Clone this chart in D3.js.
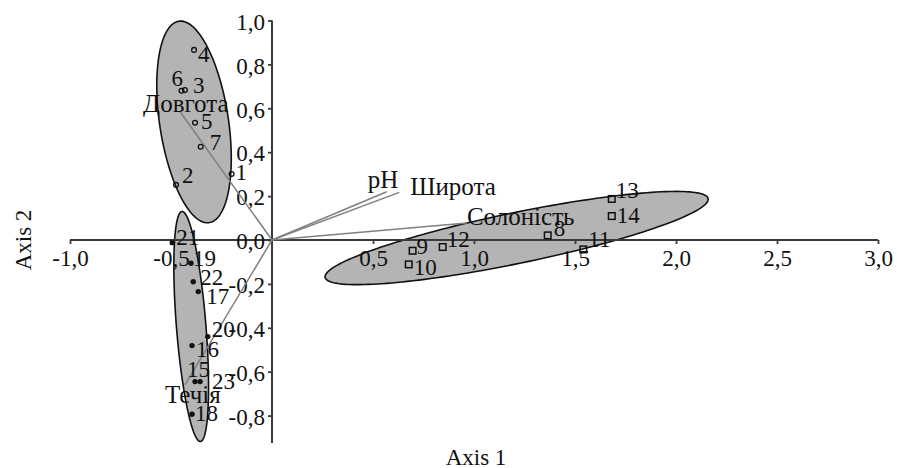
<!DOCTYPE html>
<html>
<head>
<meta charset="utf-8">
<script src="https://cdn.jsdelivr.net/npm/d3@7"></script>
<style>
  body { margin: 0; background: #fff; }
  text { font-family: "Liberation Serif", "DejaVu Serif", serif; fill: #111; }
</style>
</head>
<body>
<div id="chart"></div>
<script>
// site scores (Axis 1, Axis 2)
const groupA = [ // open circles
  { id: "1", x: -0.20, y: 0.301 },
  { id: "2", x: -0.475, y: 0.251 },
  { id: "3", x: -0.431, y: 0.683 },
  { id: "4", x: -0.386, y: 0.866 },
  { id: "5", x: -0.381, y: 0.534 },
  { id: "6", x: -0.448, y: 0.680 },
  { id: "7", x: -0.353, y: 0.425 }
];
const groupB = [ // open squares
  { id: "8", x: 1.365, y: 0.021 },
  { id: "9", x: 0.696, y: -0.049 },
  { id: "10", x: 0.677, y: -0.111 },
  { id: "11", x: 1.541, y: -0.043 },
  { id: "12", x: 0.845, y: -0.032 },
  { id: "13", x: 1.682, y: 0.187 },
  { id: "14", x: 1.682, y: 0.109 }
];
const groupC = [ // filled dots
  { id: "15", x: -0.381, y: -0.645 },
  { id: "16", x: -0.396, y: -0.481 },
  { id: "17", x: -0.365, y: -0.235 },
  { id: "18", x: -0.396, y: -0.794 },
  { id: "19", x: -0.401, y: -0.106 },
  { id: "20", x: -0.318, y: -0.440 },
  { id: "21", x: -0.494, y: -0.012 },
  { id: "22", x: -0.390, y: -0.190 },
  { id: "23", x: -0.356, y: -0.645 }
];

// environmental vectors
const vectorNames = ["Довгота", "pH", "Широта", "Солоність", "Течія"];
const vectorX = [-0.455, 0.568, 0.630, 0.965, -0.431];
const vectorY = [0.584, 0.220, 0.217, 0.077, -0.66];

// group ellipses: centre, semi-axes and angle (degrees) in axis units
const ellipseCx = [-0.386, 1.211, -0.400];
const ellipseCy = [0.538, 0.009, -0.394];
const ellipseA = [0.465, 0.965, 0.526];
const ellipseB = [0.170, 0.116, 0.073];
const ellipseAngle = [99.5, 10.7, 95];

const xTicks = [-1, -0.5, 0.5, 1, 1.5, 2, 2.5, 3];
const yTicks = [-0.8, -0.6, -0.4, -0.2, 0, 0.2, 0.4, 0.6, 0.8, 1.0];

// label offsets (px) for point numbers: [dx, dy of baseline]
const labelOffset = {
  "1": [4, 6], "2": [6, -2], "3": [8, 3], "4": [4, 12], "5": [6, 6], "6": [-10, -5], "7": [9, 3],
  "8": [6, 1], "9": [4, 3], "10": [5, 11], "11": [5, -2], "12": [4, 0], "13": [4, -1], "14": [5, 7],
  "15": [-8, -5], "16": [4, 11], "17": [8, 12], "18": [3, 7], "19": [2, 3], "20": [4, 0],
  "21": [4, 2], "22": [7, 3], "23": [12, 7]
};
const vectorLabel = {
  "Довгота": [-37, 0], "pH": [-19, -4], "Широта": [11, 3], "Солоність": [0, 2], "Течія": [-20, 18]
};

const width = 897, height = 468;
const fontSize = 23;
const fmt = v => d3.format(".1f")(v).replace(".", ",").replace("−", "-");

const svg = d3.select("#chart").append("svg")
  .attr("width", width)
  .attr("height", height);

const x = d3.scaleLinear().domain([-1, 3]).range([70, 878]);
const y = d3.scaleLinear().domain([0, 1]).range([240, 20.5]);

// ellipses
const ellipseLine = d3.line().curve(d3.curveLinearClosed);
ellipseCx.forEach((cx, i) => {
  const phi = ellipseAngle[i] * Math.PI / 180;
  const pts = d3.range(0, 2 * Math.PI, Math.PI / 90).map(t => {
    const ex = cx + ellipseA[i] * Math.cos(t) * Math.cos(phi) - ellipseB[i] * Math.sin(t) * Math.sin(phi);
    const ey = ellipseCy[i] + ellipseA[i] * Math.cos(t) * Math.sin(phi) + ellipseB[i] * Math.sin(t) * Math.cos(phi);
    return [x(ex), y(ey)];
  });
  svg.append("path")
    .attr("d", ellipseLine(pts))
    .attr("fill", "#b4b4b4")
    .attr("stroke", "#111")
    .attr("stroke-width", 1.6);
});

// x axis through y=0
const xAxis = svg.append("g")
  .attr("transform", `translate(0,${y(0)})`)
  .call(d3.axisBottom(x).tickValues(xTicks).tickSize(4).tickPadding(6).tickFormat(fmt).tickSizeOuter(0));
xAxis.select(".domain").attr("stroke", "#3a3a3a").attr("stroke-width", 2)
  .attr("d", `M${x(-1)},0H${x(3)}`);
xAxis.selectAll(".tick line").attr("stroke", "#3a3a3a").attr("stroke-width", 1.8);
xAxis.selectAll(".tick text").attr("font-size", fontSize).attr("fill", "#111")
  .attr("font-family", "Liberation Serif, serif");

// y axis through x=0
const yAxis = svg.append("g")
  .attr("transform", `translate(${x(0)},0)`)
  .call(d3.axisLeft(y).tickValues(yTicks).tickSize(4).tickPadding(3).tickFormat(fmt).tickSizeOuter(0));
yAxis.select(".domain").attr("stroke", "#3a3a3a").attr("stroke-width", 2)
  .attr("d", `M0,${y(1)}V${y(-0.925)}`);
yAxis.selectAll(".tick line").attr("stroke", "#3a3a3a").attr("stroke-width", 1.8);
yAxis.selectAll(".tick text").attr("font-size", fontSize).attr("fill", "#111")
  .attr("dy", "0.38em")
  .attr("font-family", "Liberation Serif, serif");

// vectors
vectorNames.forEach((name, i) => {
  svg.append("line")
    .attr("x1", x(0)).attr("y1", y(0))
    .attr("x2", x(vectorX[i])).attr("y2", y(vectorY[i]))
    .attr("stroke", "#808080")
    .attr("stroke-width", 1.5);
  svg.append("text")
    .attr("x", x(vectorX[i]) + vectorLabel[name][0])
    .attr("y", y(vectorY[i]) + vectorLabel[name][1])
    .attr("font-size", 25)
    .text(name);
});

// points
svg.selectAll(".pa").data(groupA).enter().append("circle")
  .attr("cx", d => x(d.x)).attr("cy", d => y(d.y)).attr("r", 2.4)
  .attr("fill", "none").attr("stroke", "#111").attr("stroke-width", 1.3);
svg.selectAll(".pb").data(groupB).enter().append("rect")
  .attr("x", d => x(d.x) - 3.3).attr("y", d => y(d.y) - 3.3)
  .attr("width", 6.6).attr("height", 6.6)
  .attr("fill", "none").attr("stroke", "#111").attr("stroke-width", 1.5);
svg.selectAll(".pc").data(groupC).enter().append("circle")
  .attr("cx", d => x(d.x)).attr("cy", d => y(d.y)).attr("r", 2.7)
  .attr("fill", "#111");

// point labels
svg.selectAll(".lbl").data(groupA.concat(groupB, groupC)).enter().append("text")
  .attr("x", d => x(d.x) + labelOffset[d.id][0])
  .attr("y", d => y(d.y) + labelOffset[d.id][1])
  .attr("font-size", fontSize)
  .text(d => d.id);

// axis titles
svg.append("text")
  .attr("x", 476).attr("y", 465)
  .attr("text-anchor", "middle").attr("font-size", fontSize)
  .text("Axis 1");
svg.append("text")
  .attr("transform", "translate(31,240) rotate(-90)")
  .attr("text-anchor", "middle").attr("font-size", fontSize)
  .text("Axis 2");
</script>
</body>
</html>
